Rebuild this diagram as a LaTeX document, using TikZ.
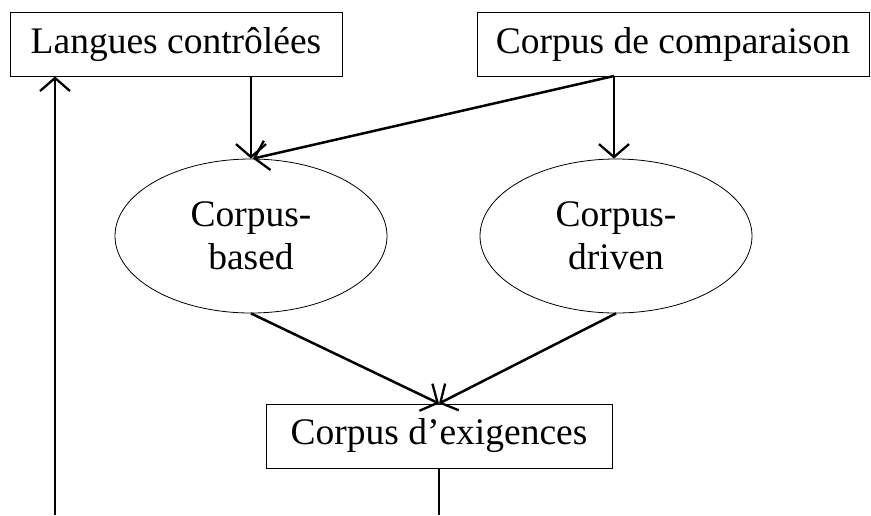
\documentclass[tikz,border=0pt]{standalone}
\usepackage{fontspec}
\setmainfont{Liberation Serif}
\usetikzlibrary{arrows.meta,shapes.geometric}
\begin{document}
\begin{tikzpicture}[x=1pt,y=-1pt,
  every node/.style={font=\fontsize{37.5}{43}\selectfont},
  boxnode/.style={draw,line width=1pt,inner sep=0pt,anchor=center},
  ellnode/.style={draw,ellipse,line width=0.8pt,inner sep=0pt,minimum width=272pt,minimum height=154pt,align=center},
  arr/.style={line width=2.5pt,-{Straight Barb[length=13pt,width=30pt,line width=2.3pt]}},
  plain/.style={line width=2.5pt}]
\useasboundingbox (0,0) rectangle (871,515);
\node[boxnode,minimum width=332pt,minimum height=64pt] (lc) at (176,44) {Langues contrôlées};
\node[boxnode,minimum width=392pt,minimum height=64pt] (cc) at (673,44) {Corpus de comparaison};
\node[ellnode] (cb) at (251,236) {Corpus-\\based};
\node[ellnode] (cd) at (616,236) {Corpus-\\driven};
\node[boxnode,minimum width=346pt,minimum height=64pt] (ce) at (439,436) {Corpus d’exigences};
\coordinate (cs) at (614,76);
\coordinate (lbot) at (55,515);
\coordinate (ebot) at (439,515);
\draw[arr] (cb.north |- lc.south) -- (cb.north);
\draw[arr] (cs) -- (cs |- cd.north);
\draw[arr] (cs) -- ([xshift=2pt]cb.north);
\draw[arr] (cb.south) -- (ce.north);
\draw[arr] (cd.south) -- (ce.north);
\draw[arr] (lbot) -- (lbot |- lc.south);
\draw[plain] (ce.south) -- (ebot);
\end{tikzpicture}
\end{document}
